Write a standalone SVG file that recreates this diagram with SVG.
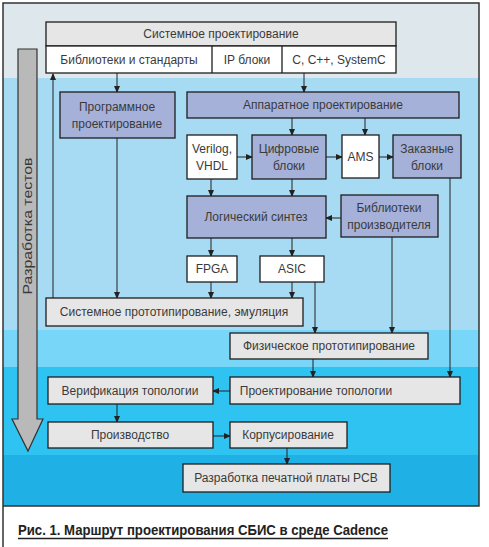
<svg xmlns="http://www.w3.org/2000/svg" width="489" height="547" viewBox="0 0 489 547">
<style>
text{font-family:"Liberation Sans",Arial,sans-serif;font-size:12px;fill:#3a3a3a;text-anchor:middle}
.b{stroke:#1e1e1e;stroke-width:1.3}
.p{fill:#a5b1d9}
.g{fill:#e6e6e6}
.w{fill:#ffffff}
.c{stroke:#222;stroke-width:1;fill:none;marker-end:url(#ah)}
</style>
<defs>
<marker id="ah" markerWidth="7" markerHeight="6" refX="6" refY="3" orient="auto" markerUnits="userSpaceOnUse">
<path d="M0,0 L7,3 L0,6 z" fill="#222"/>
</marker>
</defs>
<rect x="0" y="0" width="489" height="547" fill="#ffffff"/>
<g id="background">
<rect x="3" y="3" width="476" height="75" fill="#dde7ec"/>
<rect x="3" y="78" width="476" height="252" fill="#a6dbf3"/>
<rect x="3" y="330" width="476" height="37" fill="#78d6f8"/>
<rect x="3" y="367" width="476" height="88" fill="#2fc3f2"/>
<rect x="3" y="455" width="476" height="51" fill="#1fb0e6"/>
<path d="M3,547 L3,3 L479,3 L479,506 L3,506" fill="none" stroke="#333" stroke-width="1.5"/>
</g>
<g id="tests">
<polygon points="18,49 37,49 37,419 43,419 28,451 12,419 18,419" fill="#b9b9b9" stroke="#333" stroke-width="1.2"/>
<text transform="translate(32,226) rotate(-90)" font-size="13" textLength="137" lengthAdjust="spacingAndGlyphs">Разработка тестов</text>
</g>
<g id="connectors">
<line class="c" x1="53" y1="298" x2="53" y2="74"/>
<line class="c" x1="117" y1="73" x2="117" y2="92"/>
<line class="c" x1="117" y1="138" x2="117" y2="298"/>
<line class="c" x1="304" y1="73" x2="304" y2="92"/>
<line class="c" x1="292" y1="118" x2="292" y2="135"/>
<line class="c" x1="365" y1="118" x2="365" y2="135"/>
<line class="c" x1="237" y1="157" x2="252" y2="157"/>
<line class="c" x1="326" y1="157" x2="342" y2="157"/>
<line class="c" x1="379" y1="157" x2="393" y2="157"/>
<line class="c" x1="211" y1="179" x2="211" y2="196"/>
<line class="c" x1="292" y1="179" x2="292" y2="196"/>
<line class="c" x1="341" y1="218" x2="326" y2="218"/>
<line class="c" x1="211" y1="238" x2="211" y2="256"/>
<line class="c" x1="292" y1="238" x2="292" y2="256"/>
<line class="c" x1="211" y1="282" x2="211" y2="298"/>
<line class="c" x1="292" y1="282" x2="292" y2="298"/>
<line class="c" x1="315" y1="282" x2="315" y2="333"/>
<line class="c" x1="392" y1="237" x2="392" y2="333"/>
<line class="c" x1="450" y1="178" x2="450" y2="377"/>
<line class="c" x1="313" y1="359" x2="313" y2="377"/>
<line class="c" x1="230" y1="391" x2="213" y2="391"/>
<line class="c" x1="117" y1="404" x2="117" y2="422"/>
<line class="c" x1="213" y1="436" x2="230" y2="436"/>
<line class="c" x1="287" y1="448" x2="287" y2="464"/>
</g>
<g id="system-design">
<rect class="b g" x="46" y="22" width="350" height="24"/>
<text x="221" y="38">Системное проектирование</text>
<rect class="b w" x="46" y="46" width="350" height="27"/>
<line class="b" x1="212" y1="46" x2="212" y2="73"/>
<line class="b" x1="282" y1="46" x2="282" y2="73"/>
<text x="129" y="64">Библиотеки и стандарты</text>
<text x="247" y="64">IP блоки</text>
<text x="339" y="64">C, C++, SystemC</text>
</g>
<g id="software">
<rect class="b p" x="60" y="92" width="115" height="46"/>
<text x="117" y="111">Программное</text>
<text x="117" y="128">проектирование</text>
</g>
<g id="hardware">
<rect class="b p" x="187" y="92" width="272" height="26"/>
<text x="323" y="109">Аппаратное проектирование</text>
</g>
<g id="verilog">
<rect class="b w" x="187" y="135" width="50" height="44"/>
<text x="212" y="153">Verilog,</text>
<text x="212" y="170">VHDL</text>
</g>
<g id="digital">
<rect class="b p" x="252" y="135" width="74" height="44"/>
<text x="289" y="153">Цифровые</text>
<text x="289" y="170">блоки</text>
</g>
<g id="ams">
<rect class="b w" x="342" y="135" width="37" height="43"/>
<text x="360.5" y="161">AMS</text>
</g>
<g id="custom">
<rect class="b p" x="393" y="135" width="68" height="43"/>
<text x="427" y="153">Заказные</text>
<text x="427" y="170">блоки</text>
</g>
<g id="synthesis">
<rect class="b p" x="187" y="196" width="139" height="42"/>
<text x="256" y="221">Логический синтез</text>
</g>
<g id="vendor-libs">
<rect class="b p" x="341" y="195" width="97" height="42"/>
<text x="389" y="212">Библиотеки</text>
<text x="389" y="229">производителя</text>
</g>
<g id="fpga">
<rect class="b w" x="187" y="256" width="50" height="26"/>
<text x="212" y="273">FPGA</text>
</g>
<g id="asic">
<rect class="b w" x="260" y="256" width="64" height="26"/>
<text x="292" y="273">ASIC</text>
</g>
<g id="prototyping">
<rect class="b g" x="46" y="298" width="257" height="28"/>
<text x="174" y="316">Системное прототипирование, эмуляция</text>
</g>
<g id="physical">
<rect class="b g" x="230" y="333" width="198" height="26"/>
<text x="329" y="350">Физическое прототипирование</text>
</g>
<g id="layout">
<rect class="b g" x="230" y="377" width="230" height="27"/>
<text x="316" y="395">Проектирование топологии</text>
</g>
<g id="verification">
<rect class="b g" x="48" y="377" width="165" height="27"/>
<text x="130" y="395">Верификация топологии</text>
</g>
<g id="manufacturing">
<rect class="b g" x="48" y="422" width="165" height="26"/>
<text x="130" y="439">Производство</text>
</g>
<g id="packaging">
<rect class="b g" x="230" y="422" width="117" height="26"/>
<text x="288" y="439">Корпусирование</text>
</g>
<g id="pcb">
<rect class="b g" x="183" y="464" width="207" height="28"/>
<text x="286" y="482">Разработка печатной платы PCB</text>
</g>
<g id="caption">
<text x="18" y="535" style="text-anchor:start;font-weight:bold;font-size:14px;fill:#222" textLength="370" lengthAdjust="spacingAndGlyphs">Рис. 1. Маршрут проектирования СБИС в среде Cadence</text>
<line x1="18" y1="538.5" x2="388" y2="538.5" stroke="#222" stroke-width="1.3"/>
</g>
</svg>
